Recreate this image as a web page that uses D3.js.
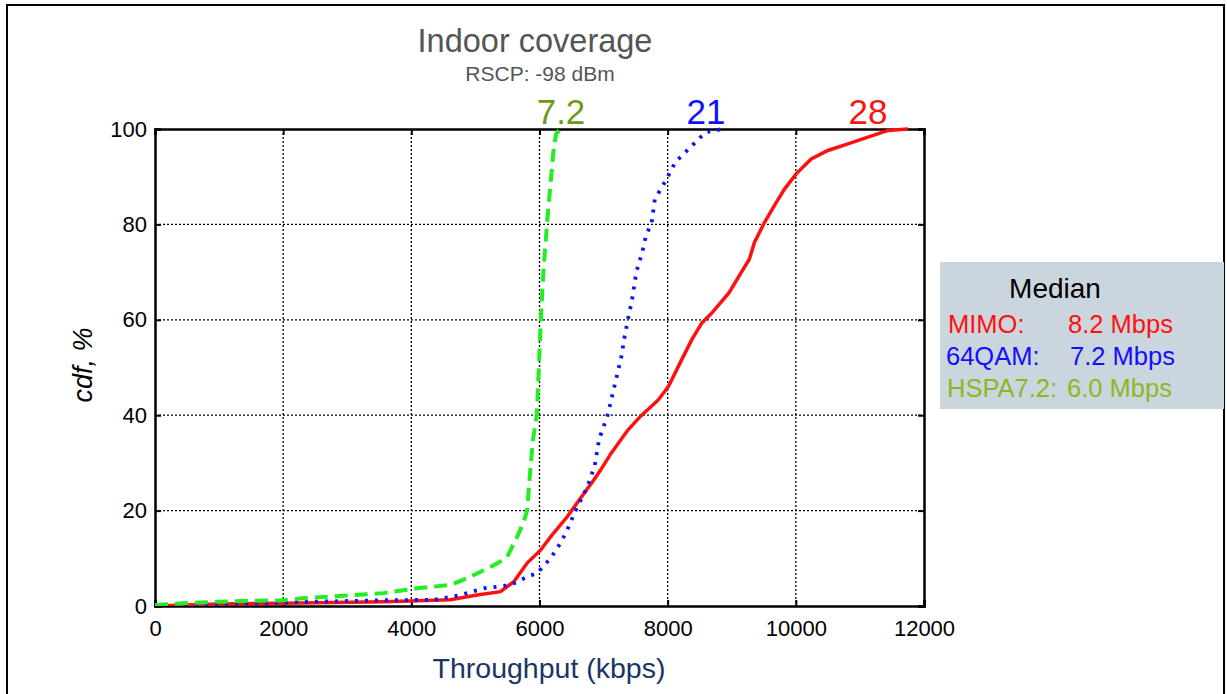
<!DOCTYPE html>
<html><head><meta charset="utf-8">
<script src="https://cdn.jsdelivr.net/npm/d3@7"></script>
<style>body{margin:0;background:#fff}svg{display:block}text{font-family:"Liberation Sans",Arial,sans-serif}</style>
</head><body>
<script>
// ---- data ----
const xTicks = [0, 2000, 4000, 6000, 8000, 10000, 12000];
const yTicks = [0, 20, 40, 60, 80, 100];
const mimoX = [0,1000,2000,3568,4609,5026,5391,5599,5807,6016,6172,6432,6693,6853,6953,7116,7379,7578,7853,8011,8221,8379,8537,8695,8958,9146,9274,9354,9510,9667,9823,10005,10240,10500,10813,11125,11438,11750];
const mimoY = [0,0.4,0.6,0.9,1.3,2.3,3,5.1,9,11.7,14.5,18.7,23.6,26.5,28.5,32,36.9,39.8,43.2,46,51.7,55.9,59.4,61.5,65.7,69.9,72.7,76.2,80.4,84,87.4,90.6,93.7,95.5,96.9,98.3,99.7,100];
const qamX = [0,700,1484,2500,3568,4349,4766,5130,5547,5807,5964,6172,6328,6421,6563,6747,6863,6931,7063,7168,7274,7326,7379,7442,7511,7600,7668,7747,7800,7984,8116,8379,8590,8853];
const qamY = [0,0.3,0.6,0.9,1.2,1.3,2.3,3.7,4.4,6.1,6.9,10,13.2,15.6,20,25,29.5,35,40,46,52,56.3,60,64,70,74,78,80,85.3,89.5,93,96.5,99.3,100];
const hspaX = [0,440,1000,1500,2000,2300,3000,3568,4089,4609,4900,5130,5350,5495,5651,5750,5807,5859,5900,5958,5990,6021,6060,6116,6179,6221,6260,6326];
const hspaY = [0.2,0.6,0.9,1.1,1.2,1.6,2.2,2.7,3.7,4.4,6,7.5,9,10.3,14.5,17.5,20,29,35,40,50,60,70,80,89.5,95.8,99,100];
const topLabels = ["7.2", "21", "28"];
const legendNames = ["MIMO:", "64QAM:", "HSPA7.2:"];
const legendValues = ["8.2 Mbps", "7.2 Mbps", "6.0 Mbps"];

const W = 1227, H = 694;
const svg = d3.select("body").append("svg").attr("width", W).attr("height", H);

// outer frame
svg.append("rect").attr("x", 7).attr("y", 5).attr("width", 1217).attr("height", 720)
  .attr("fill", "none").attr("stroke", "#000").attr("stroke-width", 2);

const L = 155, R = 924, T = 129, B = 606;
const x = d3.scaleLinear().domain([0, 12000]).range([L, R]);
const y = d3.scaleLinear().domain([0, 100]).range([B, T]);

// grid
const g = svg.append("g");
g.selectAll(".vg").data(xTicks.slice(1, -1)).join("line")
  .attr("x1", d => x(d)).attr("x2", d => x(d)).attr("y1", T).attr("y2", B)
  .attr("stroke", "#000").attr("stroke-width", 1.3).attr("stroke-dasharray", "2,2");
g.selectAll(".hg").data(yTicks.slice(1, -1)).join("line")
  .attr("x1", L).attr("x2", R).attr("y1", d => y(d)).attr("y2", d => y(d))
  .attr("stroke", "#000").attr("stroke-width", 1.3).attr("stroke-dasharray", "2,2");

// axes
const axB = svg.append("g").attr("transform", `translate(0,${B})`)
  .call(d3.axisBottom(x).tickValues(xTicks).tickSize(-6).tickPadding(14).tickFormat(d3.format("d")));
const axL = svg.append("g").attr("transform", `translate(${L},0)`)
  .call(d3.axisLeft(y).tickValues(yTicks).tickSize(-6).tickPadding(8));
const axT = svg.append("g").attr("transform", `translate(0,${T})`)
  .call(d3.axisTop(x).tickValues(xTicks).tickSize(-6).tickFormat(""));
const axR = svg.append("g").attr("transform", `translate(${R},0)`)
  .call(d3.axisRight(y).tickValues(yTicks).tickSize(-6).tickFormat(""));
[axB, axL, axT, axR].forEach(a => {
  a.select(".domain").attr("stroke", "#000").attr("stroke-width", 2.5);
  a.selectAll(".tick line").attr("stroke", "#000").attr("stroke-width", 2);
  a.selectAll(".tick text").attr("fill", "#000").style("font-size", "22px")
    .style("font-family", '"Liberation Sans", Arial, sans-serif');
});
axB.selectAll(".tick text").attr("dy", "0.71em");

// clip
svg.append("clipPath").attr("id", "clip").append("rect")
  .attr("x", L).attr("y", T - 3).attr("width", R - L).attr("height", B - T + 3);

const line = d3.line().x(d => x(d[0])).y(d => y(d[1]));
const lines = svg.append("g").attr("clip-path", "url(#clip)");
lines.append("path").datum(d3.zip(mimoX, mimoY)).attr("d", line)
  .attr("fill", "none").attr("stroke", "#ff1010").attr("stroke-width", 3.5);
lines.append("path").datum(d3.zip(qamX, qamY)).attr("d", line)
  .attr("fill", "none").attr("stroke", "#0a14ff").attr("stroke-width", 3.8)
  .attr("stroke-dasharray", "3,7");
lines.append("path").datum(d3.zip(hspaX, hspaY)).attr("d", line)
  .attr("fill", "none").attr("stroke", "#22ee22").attr("stroke-width", 4)
  .attr("stroke-dasharray", "13,7");

// titles
svg.append("text").attr("x", 535).attr("y", 52).attr("text-anchor", "middle")
  .attr("fill", "#555").style("font-size", "32.5px").text("Indoor coverage");
svg.append("text").attr("x", 540).attr("y", 81).attr("text-anchor", "middle")
  .attr("fill", "#555").style("font-size", "21px").text("RSCP: -98 dBm");

const topColors = ["#6e9a18", "#1010ff", "#ff1010"];
const topPos = [561, 706, 868];
svg.selectAll(".toplab").data(topLabels).join("text")
  .attr("x", (d, i) => topPos[i]).attr("y", 124).attr("text-anchor", "middle")
  .attr("fill", (d, i) => topColors[i]).style("font-size", "35px").text(d => d);

// axis labels
svg.append("text").attr("transform", "translate(92,365) rotate(-90)").attr("text-anchor", "middle")
  .attr("fill", "#000").style("font-size", "27px").style("font-style", "italic").text("cdf, %");
svg.append("text").attr("x", 549).attr("y", 678).attr("text-anchor", "middle")
  .attr("fill", "#1b3564").style("font-size", "28.5px").text("Throughput (kbps)");

// legend
const lg = svg.append("g");
lg.append("rect").attr("x", 940).attr("y", 262).attr("width", 284).attr("height", 147).attr("fill", "#cbd5de");
lg.append("text").attr("x", 1055).attr("y", 298).attr("text-anchor", "middle").attr("fill", "#000")
  .style("font-size", "28px").text("Median");
const legColors = ["#ff1010", "#1010ff", "#8cb81e"];
const nameX = [948, 946, 947], valX = [1068, 1070, 1067];
legendNames.forEach((n, i) => {
  lg.append("text").attr("x", nameX[i]).attr("y", 333 + i * 32).attr("fill", legColors[i])
    .style("font-size", "25.5px").text(n);
  lg.append("text").attr("x", valX[i]).attr("y", 333 + i * 32).attr("fill", legColors[i])
    .style("font-size", "25.5px").text(legendValues[i]);
});
</script>
</body></html>
